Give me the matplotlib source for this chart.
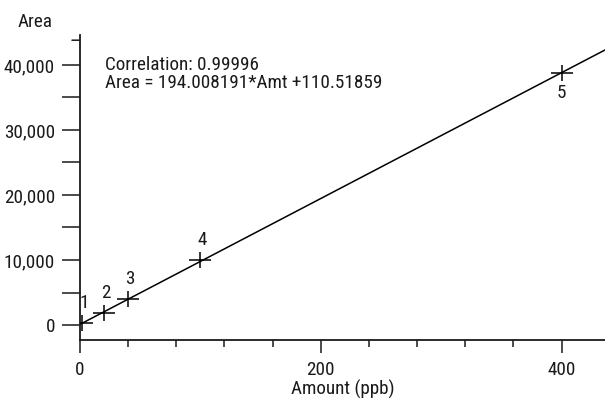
import numpy as np
import matplotlib
matplotlib.use('Agg')
import matplotlib.pyplot as plt
from matplotlib.path import Path

# calibration points
levels = ['1', '2', '3', '4', '5']
amount = [2, 20, 40, 100, 400]          # ppb
area = [350, 1800, 4000, 10000, 38770]

corr_text = 'Correlation: 0.99996'
eq_text = 'Area = 194.008191*Amt +110.51859'

plt.rcParams['font.family'] = ['Roboto Condensed', 'DejaVu Sans']
plt.rcParams['font.size'] = 13.8
ink = '#1a1a1a'

# wide, flat plus sign like the original instrument report
plus = Path([(-1, 0), (1, 0), (0, -0.68), (0, 0.68)],
            [Path.MOVETO, Path.LINETO, Path.MOVETO, Path.LINETO])

fig = plt.figure(figsize=(6.05, 4.05), dpi=100)
ax = fig.add_axes([80/605, 65/405, 525/605, 305/405])

# fitted line across the whole axis
slope, icpt = np.polyfit(amount, area, 1)
xl = np.array([0, 436])
ax.plot(xl, slope*xl + icpt, color='black', lw=1.1, zorder=2)
ax.plot(amount, area, ls='none', marker=plus, ms=16, mew=1.1,
        color='black', mfc='none', zorder=3)

for lab, xv, yv in zip(levels, amount, area):
    if lab == '5':
        ax.annotate(lab, (xv, yv), xytext=(0, -8), textcoords='offset points',
                    ha='center', va='top', color=ink)
    else:
        ax.annotate(lab, (xv, yv), xytext=(1.5, 8), textcoords='offset points',
                    ha='center', va='bottom', color=ink)

ax.set_xlim(0, 436)
ax.set_ylim(-2300, 44600)

for s in ['top', 'right']:
    ax.spines[s].set_visible(False)
for s in ['left', 'bottom']:
    ax.spines[s].set_linewidth(1.3)
    ax.spines[s].set_color(ink)

ax.set_xticks([0, 200, 400])
ax.set_xticks(np.arange(40, 436, 40), minor=True)
ax.set_yticks(np.arange(0, 40001, 10000))
ax.set_yticklabels(['0', '10,000', '20,000', '30,000', '40,000'])
ax.set_yticks(np.arange(5000, 40001, 10000), minor=True)

ax.tick_params(axis='x', which='major', length=9, width=1.1, pad=6, color=ink, labelcolor=ink)
ax.tick_params(axis='x', which='minor', length=5, width=1.1, color=ink)
ax.tick_params(axis='y', which='both', length=13, width=1.1, pad=5, color=ink, labelcolor=ink)
# short tick near the top of the y axis
ax.annotate('', xy=(0, 43800), xycoords=('axes fraction', 'data'),
            xytext=(-8, 0), textcoords='offset pixels',
            arrowprops=dict(arrowstyle='-', lw=1.1, color=ink, shrinkA=0, shrinkB=0))

ax.set_xlabel('Amount (ppb)', labelpad=1, color=ink)
fig.text(18/605, 1 - 27/405, 'Area', ha='left', va='baseline', color=ink)

ax.text(25/525, 0.93, corr_text + '\n' + eq_text, transform=ax.transAxes,
        ha='left', va='top', linespacing=1.0, color=ink)

fig.savefig('out.png', dpi=100)
